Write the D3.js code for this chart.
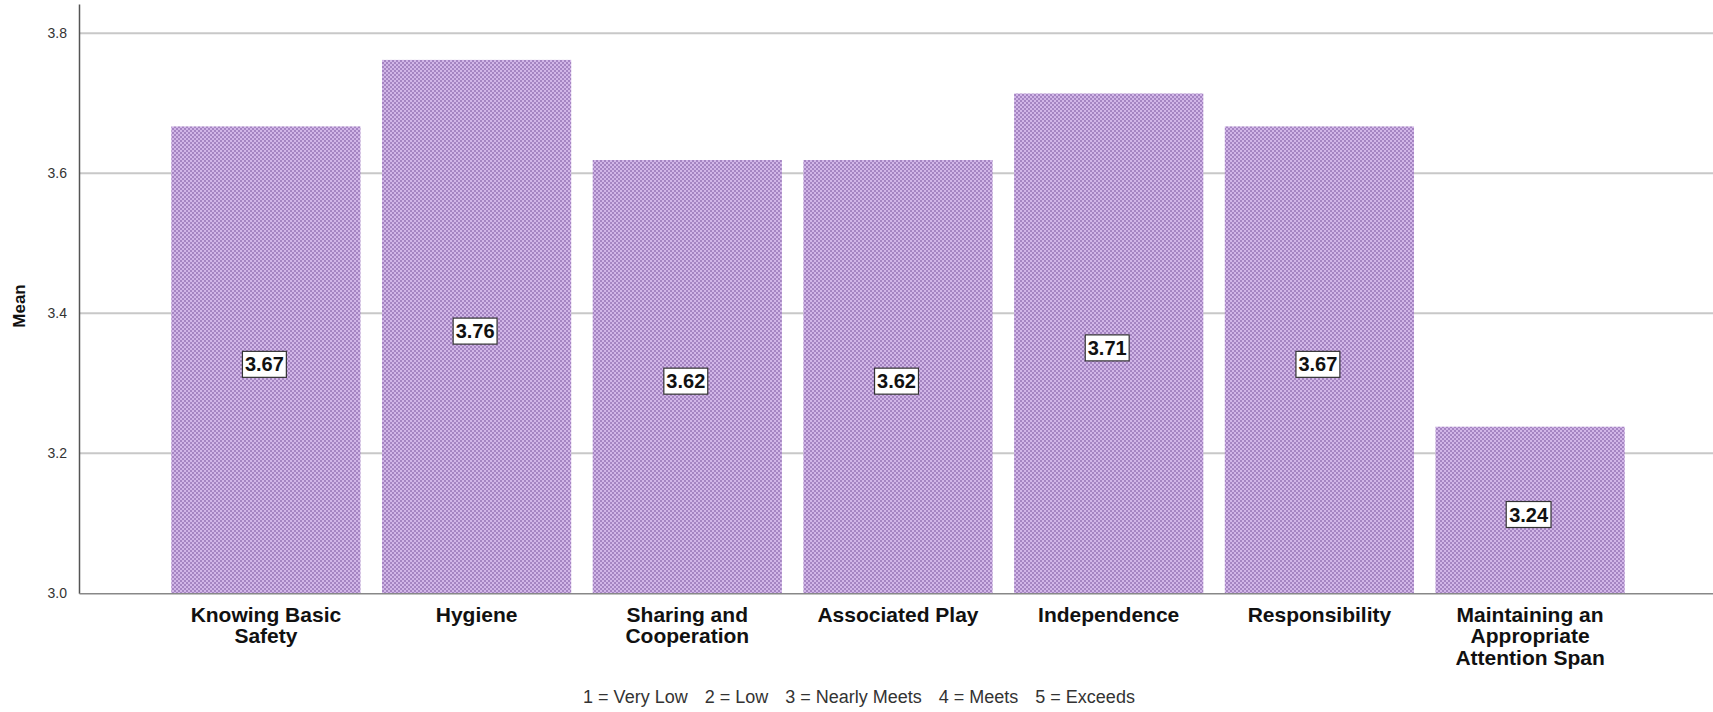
<!DOCTYPE html>
<html>
<head>
<meta charset="utf-8">
<script src="https://cdn.jsdelivr.net/npm/d3@7"></script>
<style>
  html, body { margin: 0; padding: 0; background: #fff; }
  svg { display: block; font-family: "Liberation Sans", Arial, sans-serif; }
</style>
</head>
<body>
<svg id="chart" width="1713" height="712"></svg>
<script>
const categories = [
  "Knowing Basic\nSafety",
  "Hygiene",
  "Sharing and\nCooperation",
  "Associated Play",
  "Independence",
  "Responsibility",
  "Maintaining an\nAppropriate\nAttention Span"
];
const means = [3.667, 3.762, 3.619, 3.619, 3.714, 3.667, 3.238];
const yTicks = [3.0, 3.2, 3.4, 3.6, 3.8];
const yAxisTitle = "Mean";
const footnoteItems = ["1 = Very Low", "2 = Low", "3 = Nearly Meets", "4 = Meets", "5 = Exceeds"];

const W = 1713, H = 712;
const mLeft = 79, mRight = 1717, mTop = 4, mBottom = 593.3;

const svg = d3.select("#chart");

const defs = svg.append("defs");
const pat = defs.append("pattern")
  .attr("id", "chk").attr("patternUnits", "userSpaceOnUse")
  .attr("width", 4).attr("height", 4);
pat.append("rect").attr("width", 4).attr("height", 4).attr("fill", "#d2b6e8");
pat.append("rect").attr("x", 0).attr("y", 0).attr("width", 2).attr("height", 2).attr("fill", "#a585c2");
pat.append("rect").attr("x", 2).attr("y", 2).attr("width", 2).attr("height", 2).attr("fill", "#a585c2");

const x = d3.scaleBand().domain(categories).range([mLeft, mRight])
  .paddingInner(0.102).paddingOuter(0.438);
const y = d3.scaleLinear().domain([3.0, 3.0 + (mBottom - mTop) / 700]).range([mBottom, mTop]);

// gridlines
svg.append("g").selectAll("line")
  .data(yTicks.filter(t => t > 3.0))
  .join("line")
  .attr("x1", mLeft).attr("x2", W)
  .attr("y1", d => y(d)).attr("y2", d => y(d))
  .attr("stroke", "#c8c8c8").attr("stroke-width", 2);

// bars
svg.append("g").selectAll("rect")
  .data(categories)
  .join("rect")
  .attr("x", d => x(d))
  .attr("width", x.bandwidth())
  .attr("y", (d, i) => y(means[i]))
  .attr("height", (d, i) => y(3.0) - y(means[i]))
  .attr("fill", "url(#chk)");

// y axis
const yAxis = d3.axisLeft(y).tickValues(yTicks).tickFormat(d3.format(".1f")).tickSize(0).tickPadding(12);
const gy = svg.append("g").attr("transform", `translate(${mLeft},0)`).call(yAxis);
gy.select(".domain").attr("stroke", "#555").attr("stroke-width", 1.5);
gy.selectAll("text").attr("font-size", 14).attr("fill", "#333")
  .attr("font-family", "'Liberation Sans', Arial, sans-serif");

// x axis line
const xAxis = d3.axisBottom(x).tickSize(0).tickFormat("");
const gx = svg.append("g").attr("transform", `translate(0,${mBottom})`).call(xAxis);
gx.select(".domain").attr("stroke", "#888").attr("stroke-width", 1.5);

// category labels
const catG = svg.append("g");
categories.forEach(c => {
  const t = catG.append("text")
    .attr("x", x(c) + x.bandwidth() / 2)
    .attr("y", 621.5)
    .attr("text-anchor", "middle")
    .attr("font-size", 21).attr("font-weight", "bold").attr("fill", "#111");
  c.split("\n").forEach((ln, j) => {
    t.append("tspan").attr("x", x(c) + x.bandwidth() / 2)
      .attr("dy", j === 0 ? 0 : 21.5).text(ln);
  });
});

// value labels
const fmt = d3.format(".2f");
const lblG = svg.append("g");
categories.forEach((c, i) => {
  const cx = x(c) + x.bandwidth() / 2 - 1.5;
  const cy = (y(means[i]) + y(3.0)) / 2 + 4.5;
  const g = lblG.append("g");
  const txt = g.append("text")
    .attr("x", cx).attr("y", cy + 7)
    .attr("text-anchor", "middle")
    .attr("font-size", 20).attr("font-weight", "bold").attr("fill", "#111")
    .text(fmt(means[i]));
  const bb = txt.node().getBBox();
  g.insert("rect", "text")
    .attr("x", cx - bb.width / 2 - 2.5).attr("y", cy - 13)
    .attr("width", bb.width + 5).attr("height", 26)
    .attr("fill", "#fff").attr("stroke", "#333").attr("stroke-width", 1.2);
});

// y axis title
svg.append("text")
  .attr("transform", `translate(25,306) rotate(-90)`)
  .attr("text-anchor", "middle")
  .attr("font-size", 17).attr("font-weight", "bold").attr("fill", "#111")
  .text(yAxisTitle);

// footnote
const foot = svg.append("text")
  .attr("x", 0).attr("y", 703)
  .attr("font-size", 18).attr("fill", "#333");
footnoteItems.forEach((s, i) => {
  foot.append("tspan").attr("dx", i === 0 ? 0 : 17).text(s);
});
const fbb = foot.node().getBBox();
foot.attr("x", 859 - fbb.width / 2);
</script>
</body>
</html>
